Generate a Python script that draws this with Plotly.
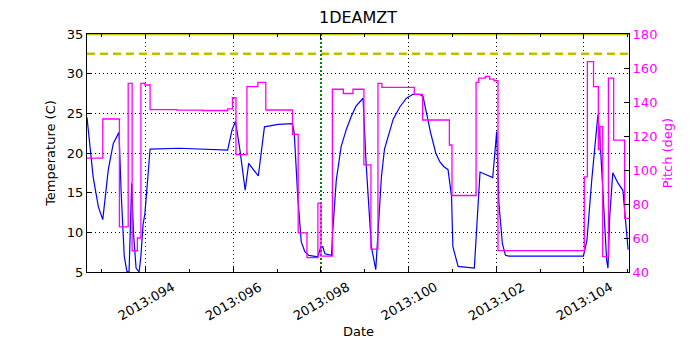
import plotly.graph_objects as go

# ---- data (day of year 2013, fractional) ----
temp_days = [92.66, 92.73, 92.80, 92.92, 93.02, 93.146, 93.26, 93.39, 93.44, 93.51, 93.57, 93.62,
             93.65, 93.68, 93.72, 93.78, 93.85, 93.89, 93.94, 93.98, 94.05, 94.10, 94.77,
             95.87, 95.97, 96.05, 96.15, 96.27, 96.35, 96.57, 96.71, 97.02, 97.35, 97.39,
             97.47, 97.55, 97.63, 97.72, 97.93, 97.99, 98.04, 98.09, 98.24, 98.27, 98.35,
             98.46, 98.58, 98.69, 98.80, 98.96, 99.03, 99.15, 99.25, 99.30, 99.38, 99.45,
             99.57, 99.65, 99.80, 99.95, 100.10, 100.25, 100.33, 100.40, 100.44, 100.50,
             100.56, 100.62, 100.71, 100.80, 100.90, 100.98, 101.01, 101.13, 101.50, 101.55,
             101.63, 101.92, 102.01, 102.06, 102.14, 102.21, 102.29, 103.99, 104.07, 104.18,
             104.32, 104.37, 104.43, 104.48, 104.52, 104.55, 104.59, 104.66, 104.78, 104.89,
             104.95, 105.01]
temp_vals = [24.5, 20.8, 17.0, 13.2, 11.6, 17.9, 21.2, 22.6, 15.0, 7.0, 5.1, 5.0,
             10.0, 16.2, 10.0, 5.5, 5.0, 7.0, 11.0, 12.3, 17.0, 20.5, 20.6,
             20.35, 22.9, 24.0, 20.4, 15.3, 18.7, 17.1, 23.3, 23.6, 23.7, 22.5,
             14.5, 8.8, 7.6, 7.1, 6.9, 8.1, 8.2, 7.3, 7.1, 10.3, 16.6,
             20.8, 23.0, 24.6, 25.9, 26.9, 18.7, 8.2, 5.3, 10.3, 17.0, 20.5,
             22.9, 24.3, 25.8, 26.9, 27.4, 27.4, 27.1, 25.5, 24.2, 22.6,
             21.2, 20.0, 18.9, 18.3, 17.9, 14.5, 8.2, 5.7, 5.5, 10.3,
             17.6, 16.9, 22.7, 13.7, 8.6, 7.1, 7.0, 7.0, 9.0, 16.6,
             24.8, 21.6, 15.3, 9.0, 6.5, 5.5, 12.0, 17.5, 16.2, 15.3,
             12.0, 7.8]

pitch_days = [92.66, 93.02, 93.40, 93.60, 93.69, 93.81, 93.89, 93.98, 94.10, 94.71, 95.29,
              95.87, 95.98, 96.06, 96.31, 96.56, 96.74, 97.35, 97.48, 97.68, 97.93, 98.00,
              98.26, 98.51, 98.73, 98.98, 99.14, 99.30, 99.39, 100.13, 100.32, 100.93, 100.99,
              101.54, 101.60, 101.75, 101.85, 101.95, 102.04, 104.01, 104.08, 104.22, 104.33,
              104.37, 104.43, 104.56, 104.68, 104.93, 105.03]
pitch_vals = [107, 130, 66.5, 151, 52.5, 60, 151, 150, 135.5, 135.2, 135,
              136, 142.5, 109, 149, 151.5, 135.3, 121, 63, 48.5, 80.5, 49.3,
              147.5, 145, 147.5, 103, 53.5, 151, 148.6, 144.5, 129.4, 114.7, 85,
              151.6, 154, 155, 153.5, 152.5, 52.6, 96, 163.7, 149, 112,
              125.5, 49, 154, 117.6, 71.6, 71.6]

major_days = [94, 96, 98, 100, 102, 104]
major_labels = ["2013:094", "2013:096", "2013:098", "2013:100", "2013:102", "2013:104"]
minor_days = [93, 95, 97, 99, 101, 103, 105]
limit_caution = 32.5
limit_top = 35.0
marker_day = 98.0
x_range = [92.66, 105.03]

FONT = "DejaVu Sans"
GRID_DASH = "1px,3px"

fig = go.Figure()
fig.add_trace(go.Scatter(x=x_range, y=[limit_top, limit_top], mode="lines",
                         line=dict(color="#bfbf00", width=2.5), yaxis="y", showlegend=False))
fig.add_trace(go.Scatter(x=x_range, y=[limit_caution, limit_caution], mode="lines",
                         line=dict(color="#bfbf00", width=2.5, dash="8px,5px"), yaxis="y", showlegend=False))
fig.add_trace(go.Scatter(x=[marker_day, marker_day], y=[5, 35], mode="lines",
                         line=dict(color="#008000", width=2, dash="2px,2px"), yaxis="y", showlegend=False))
fig.add_trace(go.Scatter(x=temp_days, y=temp_vals, mode="lines",
                         line=dict(color="#0000ff", width=1.2), yaxis="y", showlegend=False))
fig.add_trace(go.Scatter(x=pitch_days, y=pitch_vals, mode="lines",
                         line=dict(color="#ff00ff", width=1.3, shape="hv"), yaxis="y2", showlegend=False))

annotations = []
for d, lab in zip(major_days, major_labels):
    annotations.append(dict(x=d, xref="x", y=0, yref="paper", text=lab, showarrow=False,
                            textangle=-30, xanchor="center", yanchor="middle", yshift=-29,
                            font=dict(family=FONT, size=13, color="black")))
annotations.append(dict(x=0.5, xref="paper", y=0, yref="paper", text="Date", showarrow=False,
                        xanchor="center", yanchor="middle", yshift=-59,
                        font=dict(family=FONT, size=13, color="black")))

fig.update_layout(
    width=700, height=350,
    margin=dict(l=87, r=71, t=34, b=78),
    paper_bgcolor="white", plot_bgcolor="white",
    font=dict(family=FONT, size=13, color="black"),
    title=dict(text="1DEAMZT", x=0.5, xref="paper", xanchor="center", y=1, yref="container",
               yanchor="top", pad=dict(t=12), font=dict(size=16, family=FONT)),
    annotations=annotations,
    xaxis=dict(range=x_range, tickvals=major_days, ticktext=major_labels, showticklabels=False,
               showline=True, linecolor="black", linewidth=1, mirror="ticks",
               ticks="inside", ticklen=5, tickcolor="black",
               minor=dict(tickvals=minor_days, ticks="inside", ticklen=3, tickcolor="black", showgrid=False),
               showgrid=True, gridcolor="black", griddash=GRID_DASH, gridwidth=1,
               zeroline=False),
    yaxis=dict(range=[5, 35], tickvals=[5, 10, 15, 20, 25, 30, 35],
               showline=True, linecolor="black", linewidth=1, mirror=False,
               ticks="inside", ticklen=5, tickcolor="black",
               showgrid=True, gridcolor="black", griddash=GRID_DASH, gridwidth=1,
               zeroline=False,
               title=dict(text="Temperature (C)", font=dict(size=13), standoff=8)),
    yaxis2=dict(range=[40, 180], tickvals=[40, 60, 80, 100, 120, 140, 160, 180],
                overlaying="y", side="right",
                showline=True, linecolor="black", linewidth=1,
                ticks="inside", ticklen=5, tickcolor="black",
                tickfont=dict(color="#ff00ff", size=13),
                showgrid=False, zeroline=False,
                title=dict(text="Pitch (deg)", font=dict(color="#ff00ff", size=13), standoff=6)),
)

fig.write_html("out.html")
